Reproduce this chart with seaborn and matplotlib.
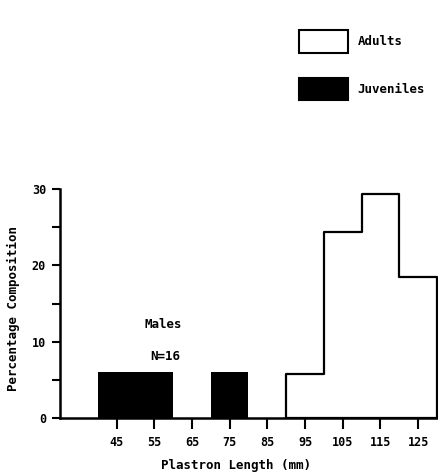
import matplotlib
matplotlib.use("Agg")
import matplotlib.pyplot as plt
import pandas as pd
import seaborn as sns
from matplotlib.patches import Patch

# Plastron length classes (mm) and percentage composition of males (N=16)
juvenile_edges = [40, 50, 60, 70, 80]
juvenile_centers = [45, 55, 65, 75]
juvenile_pct = [6.0, 6.0, 0.0, 6.0]

adult_edges = [90, 100, 110, 120, 130]
adult_centers = [95, 105, 115, 125]
adult_pct = [5.8, 24.4, 29.4, 18.5]

x_ticks = [45, 55, 65, 75, 85, 95, 105, 115, 125]
y_ticks = [0, 10, 20, 30]
y_minor_ticks = [5, 15, 25]

sns.set_style("ticks")
plt.rcParams["font.family"] = ["DejaVu Sans Mono"]
plt.rcParams["font.weight"] = "bold"
plt.rcParams["text.color"] = "black"
plt.rcParams["axes.labelcolor"] = "black"

fig = plt.figure(figsize=(4.39, 4.76), dpi=100)
ax = fig.add_axes([60 / 439, 58 / 476, 377 / 439, 229 / 476])

juv = pd.DataFrame({"length": juvenile_centers, "pct": juvenile_pct})
adu = pd.DataFrame({"length": adult_centers, "pct": adult_pct})

sns.histplot(data=adu, x="length", weights="pct", bins=adult_edges,
             element="step", fill=True, color="white", edgecolor="black",
             linewidth=1.6, alpha=1, ax=ax)
sns.histplot(data=juv, x="length", weights="pct", bins=juvenile_edges,
             element="bars", fill=True, color="black", edgecolor="black",
             linewidth=0, alpha=1, ax=ax)

ax.set_xlim(30, 130)
ax.set_ylim(0, 30)
ax.set_xticks(x_ticks)
ax.set_xticklabels([str(t) for t in x_ticks])
ax.set_yticks(y_ticks)
ax.set_yticks(y_minor_ticks, minor=True)
ax.set_yticklabels([str(t) for t in y_ticks])

for side in ("top", "right"):
    ax.spines[side].set_visible(False)
for side in ("left", "bottom"):
    ax.spines[side].set_linewidth(1.8)
    ax.spines[side].set_color("black")

ax.tick_params(axis="x", direction="out", length=8, width=1.5,
               labelsize=8.5, pad=5, colors="black")
ax.tick_params(axis="y", which="both", direction="out", length=6, width=1.5,
               labelsize=8.5, pad=4, colors="black")

ax.set_xlabel("Plastron Length (mm)", fontsize=9, fontweight="bold",
              color="black")
ax.set_ylabel("Percentage Composition", fontsize=9, fontweight="bold",
              color="black")
ax.xaxis.set_label_coords(0.467, -0.18)
ax.yaxis.set_label_coords(-0.105, 0.48)

ax.text(57.3, 12.2, "Males", ha="center", va="center", fontsize=9,
        fontweight="bold", color="black")
ax.text(57.8, 8.0, "N=16", ha="center", va="center", fontsize=9,
        fontweight="bold", color="black")

handles = [Patch(facecolor="white", edgecolor="black", linewidth=1.5,
                 label="Adults"),
           Patch(facecolor="black", edgecolor="black", linewidth=1.5,
                 label="Juveniles")]
fig.legend(handles=handles, loc="upper left",
           bbox_to_anchor=(299 / 439, 1 - 30 / 476), frameon=False,
           handlelength=3.9, handleheight=2.4, labelspacing=2.0,
           handletextpad=0.8, borderpad=0, borderaxespad=0,
           prop={"size": 9, "weight": "bold"}, labelcolor="black")

fig.savefig("out.png", dpi=100)
